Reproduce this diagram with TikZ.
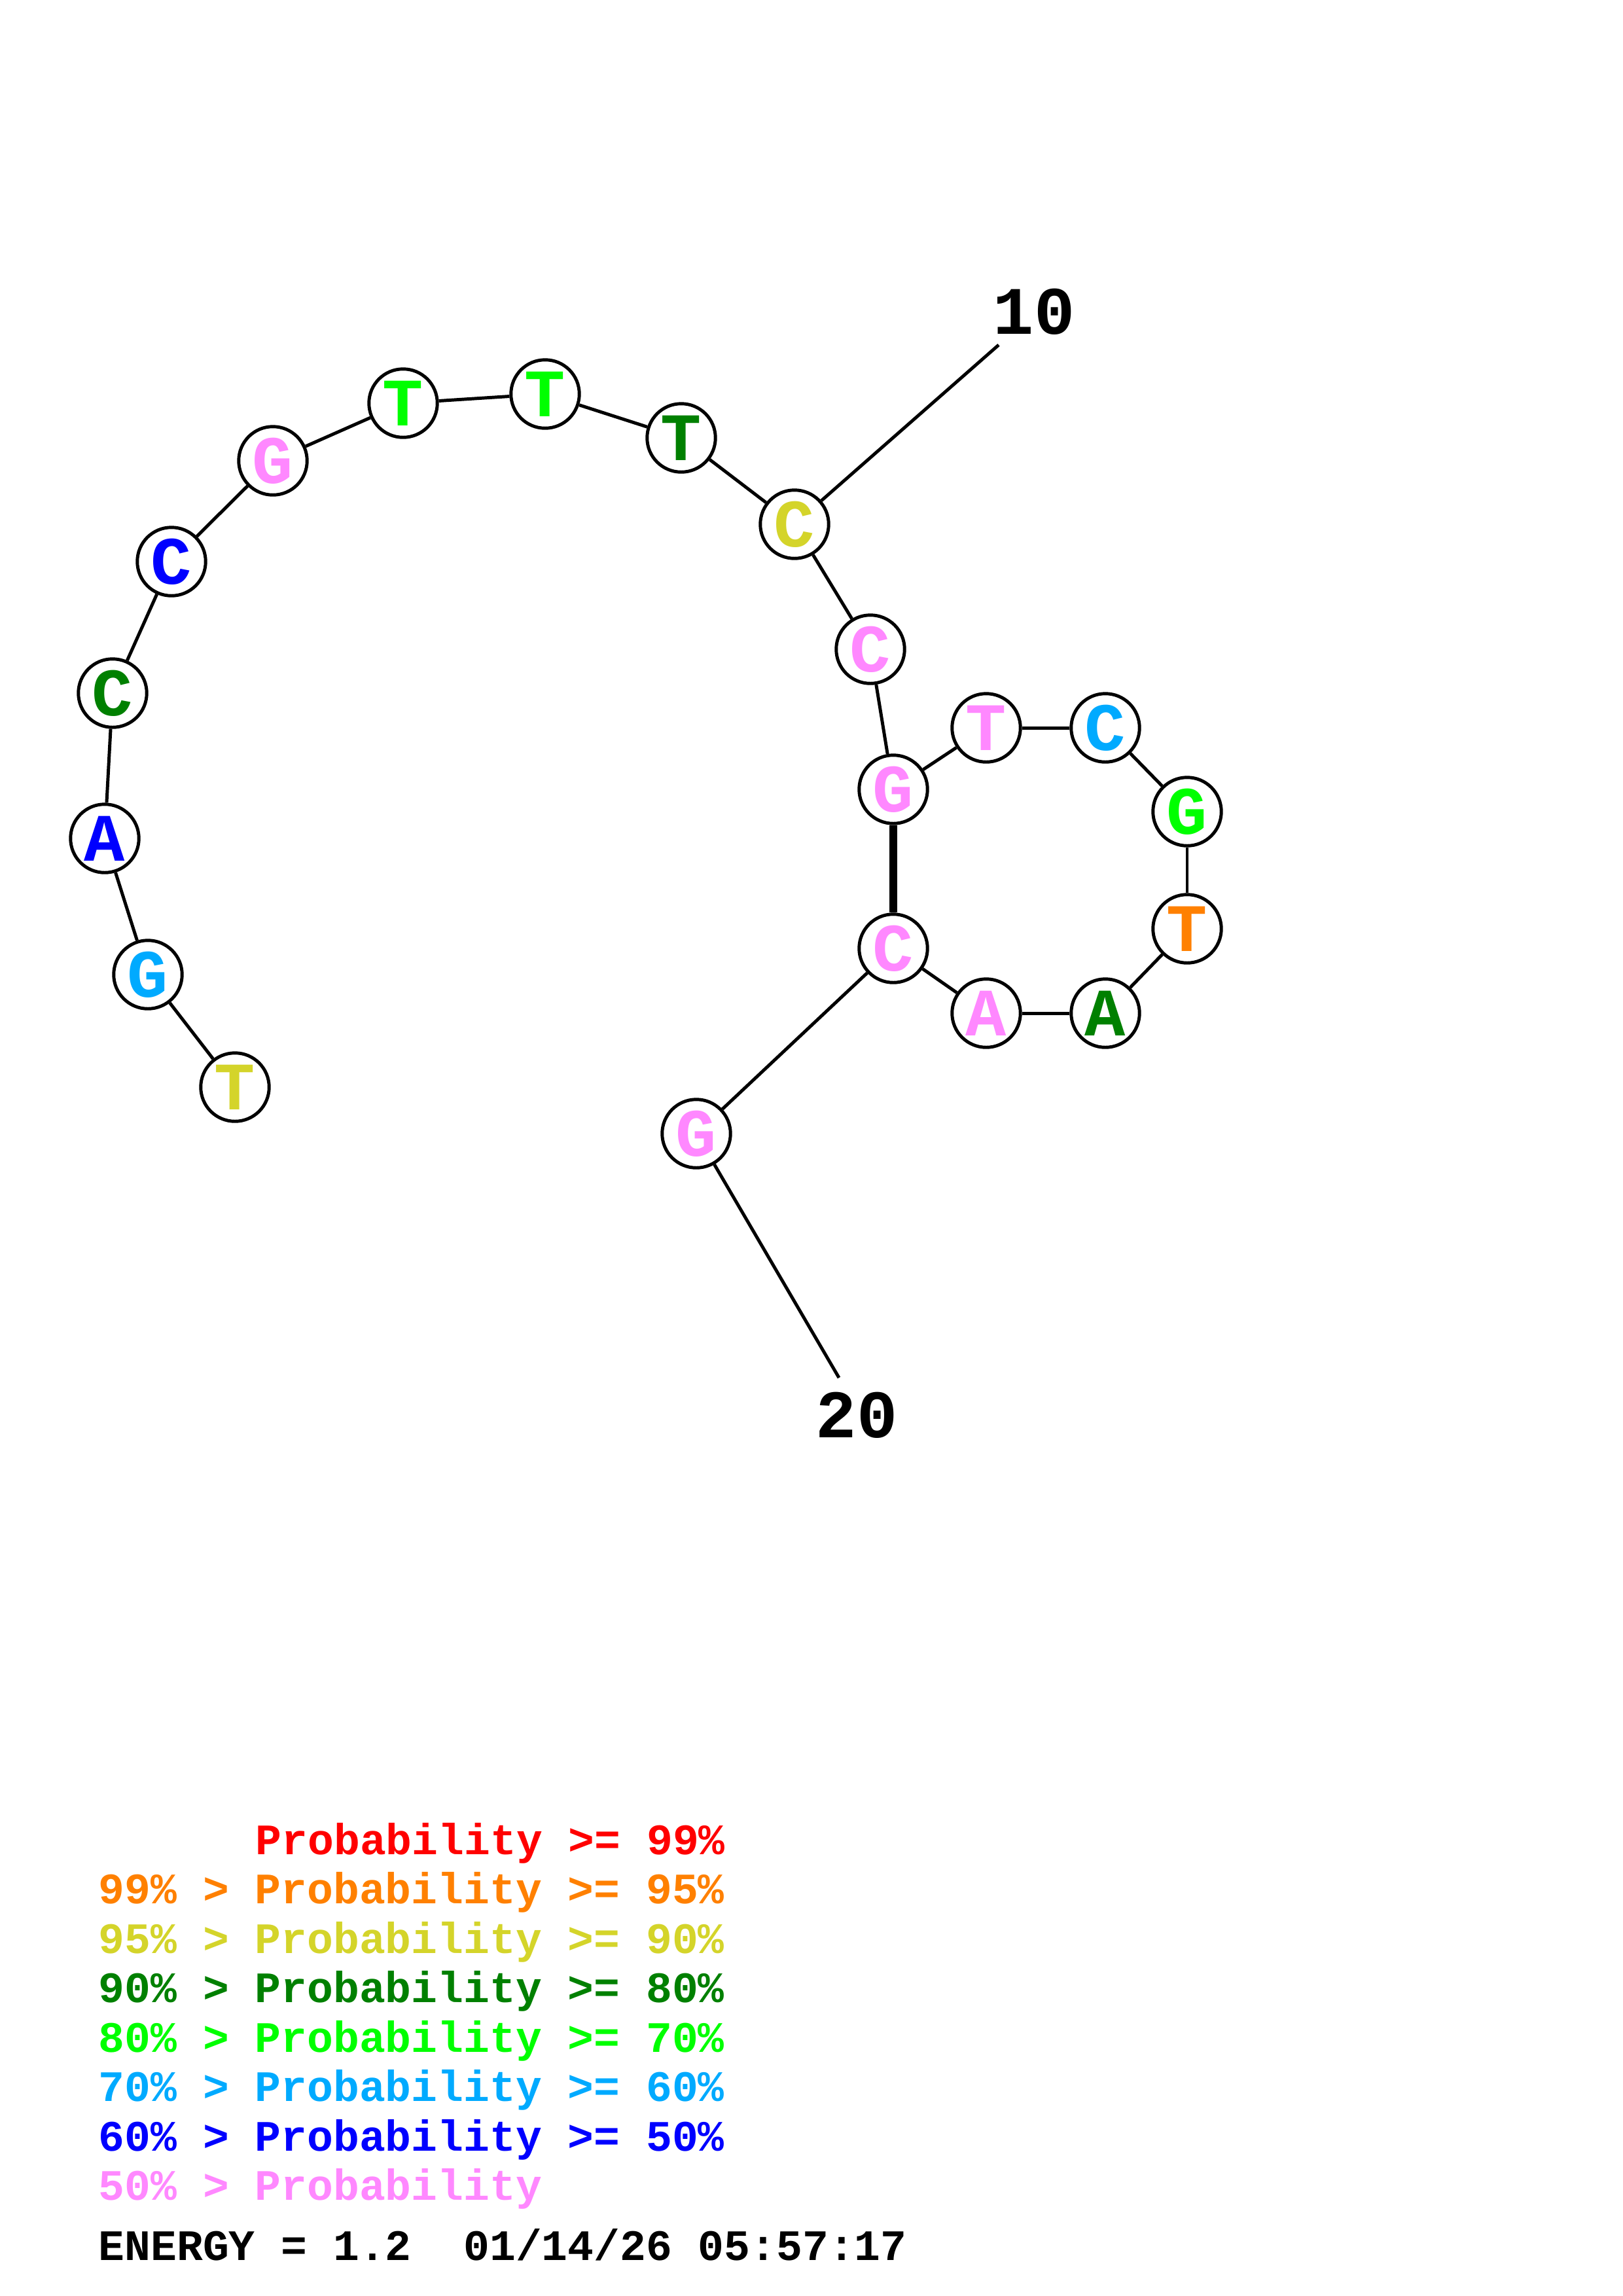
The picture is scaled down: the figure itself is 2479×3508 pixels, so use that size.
\documentclass[tikz,border=0pt]{standalone}
\usepackage{fontspec}
\newfontfamily\cour{Liberation Mono}
\definecolor{pRed}{RGB}{255,0,0}
\definecolor{pOrange}{RGB}{255,128,0}
\definecolor{pYellow}{RGB}{212,212,42}
\definecolor{pDkGreen}{RGB}{0,128,0}
\definecolor{pGreen}{RGB}{0,255,0}
\definecolor{pCyan}{RGB}{0,170,255}
\definecolor{pBlue}{RGB}{0,0,255}
\definecolor{pPink}{RGB}{255,136,255}
\tikzset{
  base/.style={circle, draw=black, fill=white, line width=0.42mm, minimum size=8.85mm, inner sep=0pt,
    font=\cour\bfseries\fontsize{25}{25}\selectfont},
  bond/.style={line width=0.42mm, black},
  pairbond/.style={line width=1.05mm, black},
  numlab/.style={inner sep=0pt, font=\cour\bfseries\fontsize{25}{25}\selectfont},
  legend/.style={anchor=base west, inner sep=0pt, font=\cour\bfseries\fontsize{16}{16}\selectfont}
}
\begin{document}
\begin{tikzpicture}[x=0.08471mm, y=-0.08471mm]
\useasboundingbox (0,0) rectangle (2479,3508);
% nucleotides
\node[base, text=pYellow]  (n1)  at (359,1661) {T};
\node[base, text=pCyan]    (n2)  at (226,1489) {G};
\node[base, text=pBlue]    (n3)  at (160,1281) {A};
\node[base, text=pDkGreen] (n4)  at (172,1059) {C};
\node[base, text=pBlue]    (n5)  at (262,858) {C};
\node[base, text=pPink]    (n6)  at (417,704) {G};
\node[base, text=pGreen]   (n7)  at (616,616) {T};
\node[base, text=pGreen]   (n8)  at (833,602) {T};
\node[base, text=pDkGreen] (n9)  at (1041,669) {T};
\node[base, text=pYellow]  (n10) at (1214,801) {C};
\node[base, text=pPink]    (n11) at (1330,992) {C};
\node[base, text=pPink]    (n12) at (1365,1206) {G};
\node[base, text=pPink]    (n13) at (1507,1112) {T};
\node[base, text=pCyan]    (n14) at (1689,1112) {C};
\node[base, text=pGreen]   (n15) at (1814,1240) {G};
\node[base, text=pOrange]  (n16) at (1814,1419) {T};
\node[base, text=pDkGreen] (n17) at (1689,1548) {A};
\node[base, text=pPink]    (n18) at (1507,1548) {A};
\node[base, text=pPink]    (n19) at (1365,1449) {C};
\node[base, text=pPink]    (n20) at (1064,1732) {G};
% backbone
\foreach \a/\b in {n1/n2,n2/n3,n3/n4,n4/n5,n5/n6,n6/n7,n7/n8,n8/n9,n9/n10,n10/n11,n11/n12,n12/n13,n13/n14,n14/n15,n15/n16,n16/n17,n17/n18,n18/n19,n19/n20}
  \draw[bond] (\a) -- (\b);
% base pair
\draw[pairbond] (n12) -- (n19);
% position labels
\node[numlab] (l10) at (1580,476) {10};
\coordinate (e10) at (1526,527);
\draw[bond] (n10) -- (e10);
\node[numlab] (l20) at (1309,2162) {20};
\coordinate (e20) at (1282,2105);
\draw[bond] (n20) -- (e20);
% legend
\node[legend, text=pRed]     (g1) at (390,2833) {Probability >= 99\%};
\node[legend, text=pOrange]  (g2) at (150,2908) {99\% > Probability >= 95\%};
\node[legend, text=pYellow]  (g3) at (150,2984) {95\% > Probability >= 90\%};
\node[legend, text=pDkGreen] (g4) at (150,3059) {90\% > Probability >= 80\%};
\node[legend, text=pGreen]   (g5) at (150,3135) {80\% > Probability >= 70\%};
\node[legend, text=pCyan]    (g6) at (150,3210) {70\% > Probability >= 60\%};
\node[legend, text=pBlue]    (g7) at (150,3286) {60\% > Probability >= 50\%};
\node[legend, text=pPink]    (g8) at (150,3361) {50\% > Probability};
\node[legend, text=black]    (en) at (150,3453) {ENERGY = 1.2\ \ 01/14/26 05:57:17};
\end{tikzpicture}
\end{document}
